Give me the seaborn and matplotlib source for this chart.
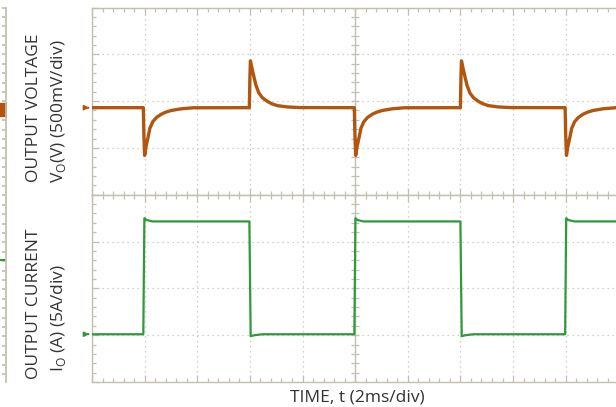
import numpy as np
import pandas as pd
import matplotlib
matplotlib.use("Agg")
import matplotlib.pyplot as plt
import seaborn as sns

# ---- values ----
# time axis: 2 ms/div, 10 divisions on screen
step_up_ms = [1.95, 9.97, 17.98]
step_down_ms = [5.98, 14.0]

# output voltage, mV from screen centre (500 mV/div)
v_base_mv = -70
undershoot_dt_ms = [0.0, 0.02, 0.05, 0.10, 0.17, 0.25, 0.36, 0.50, 0.68, 0.85, 1.06, 1.44, 1.90]
undershoot_mv = [-70, -350, -580, -490, -400, -290, -220, -175, -140, -118, -100, -82, -71]
overshoot_dt_ms = [0.0, 0.02, 0.04, 0.10, 0.17, 0.25, 0.36, 0.50, 0.68, 0.85, 1.06, 1.44, 1.90]
overshoot_mv = [-70, 250, 430, 350, 264, 170, 87, 35, -2, -28, -48, -62, -69]

# output current, A from screen centre (5 A/div)
i_low_a = -4.9
rise_dt_ms = [0.0, 0.04, 0.12, 0.35]
rise_a = [-4.9, 7.5, 7.3, 7.15]
fall_dt_ms = [0.0, 0.05, 0.20, 0.50]
fall_a = [7.15, -5.1, -5.0, -4.9]

# bits of the neighbouring figure cut off at the left edge (pixel rows)
edge_orange_y = [103, 116]
edge_green_y = [260]

V_COLOR = "#b0560f"
I_COLOR = "#2f9a3c"
GRID_C = "#c4c0b0"
TEXT_C = "#333333"


def build_trace(start, events, t_end=20.0):
    t, y = [0.0], [start]
    for t0, dts, vals in sorted(events, key=lambda e: e[0]):
        t += [t0 + d for d in dts]
        y += list(vals)
    t.append(t_end)
    y.append(y[-1])
    return pd.DataFrame({"t": t, "y": y})


def scope_axes(ax, half_range, div):
    ax.set_xlim(0, 20)
    ax.set_ylim(-half_range, half_range)
    ax.set_xticks(np.arange(0, 20.01, 2))
    ax.set_xticks(np.arange(0, 20.01, 0.4), minor=True)
    ax.set_yticks(np.arange(-half_range, half_range + 1e-9, div))
    ax.set_yticks(np.arange(-half_range, half_range + 1e-9, div / 5), minor=True)
    ax.grid(which="major", linestyle=(0, (1, 3)), color=GRID_C, linewidth=0.9)
    ax.tick_params(which="both", direction="in", top=True, bottom=True,
                   left=True, right=False, labelbottom=False, labelleft=False,
                   color=GRID_C, width=0.9)
    ax.tick_params(which="major", length=5)
    ax.tick_params(which="minor", length=3)
    for s in ax.spines.values():
        s.set_color(GRID_C)
        s.set_linewidth(1.0)
    # centre vertical axis with its cross ticks
    ax.axvline(10, color=GRID_C, lw=1.0, zorder=1)
    yt = np.arange(-half_range, half_range + 1e-9, div / 5)
    ax.plot(np.full(len(yt), 10.0), yt, ls="none", marker="_", ms=6,
            mew=0.9, color=GRID_C, zorder=1)


def main() -> int:
    sns.set_theme(style="white")
    plt.rcParams["font.family"] = ["Open Sans", "DejaVu Sans"]

    fig = plt.figure(figsize=(6.16, 4.07), dpi=100)
    W, H = 616.0, 407.0
    x0, x1 = 92.0, 618.3
    y_top, y_mid, y_bot = 7.5, 194.75, 382.0
    ax_v = fig.add_axes([x0 / W, 1 - y_mid / H, (x1 - x0) / W, (y_mid - y_top) / H])
    ax_i = fig.add_axes([x0 / W, 1 - y_bot / H, (x1 - x0) / W, (y_bot - y_mid) / H])

    scope_axes(ax_v, 1000, 500)
    scope_axes(ax_i, 10, 5)

    v_events = [(t, undershoot_dt_ms, undershoot_mv) for t in step_up_ms]
    v_events += [(t, overshoot_dt_ms, overshoot_mv) for t in step_down_ms]
    df_v = build_trace(v_base_mv, v_events)

    i_events = [(t, rise_dt_ms, rise_a) for t in step_up_ms]
    i_events += [(t, fall_dt_ms, fall_a) for t in step_down_ms]
    df_i = build_trace(i_low_a, i_events)

    sns.lineplot(data=df_v, x="t", y="y", ax=ax_v, color=V_COLOR, lw=2.4,
                 estimator=None, sort=False, zorder=3)
    sns.lineplot(data=df_i, x="t", y="y", ax=ax_i, color=I_COLOR, lw=1.6,
                 estimator=None, sort=False, zorder=3)
    for ax in (ax_v, ax_i):
        ax.set_xlabel("")
        ax.set_ylabel("")

    # ground-level markers on the left edge
    ax_v.annotate("", xy=(0, v_base_mv), xytext=(-0.25, v_base_mv),
                  arrowprops=dict(arrowstyle="-|>", color=V_COLOR, lw=1.2,
                                  mutation_scale=7), annotation_clip=False)
    ax_i.annotate("", xy=(0, i_low_a), xytext=(-0.25, i_low_a),
                  arrowprops=dict(arrowstyle="-|>", color=I_COLOR, lw=1.2,
                                  mutation_scale=7), annotation_clip=False)

    # sliver of the neighbouring figure at the far left
    ax_e = fig.add_axes([0, 1 - y_bot / H, 6.0 / W, (y_bot - y_top) / H])
    ax_e.set_xlim(0, 6)
    ax_e.set_ylim(y_bot, y_top)
    for k, s in ax_e.spines.items():
        s.set_visible(k == "right")
        s.set_color(GRID_C)
    ax_e.set_xticks([])
    ax_e.set_yticks(np.arange(y_top, y_bot, 9.4))
    ax_e.tick_params(axis="y", direction="in", right=True, left=False,
                     labelleft=False, length=3, color=GRID_C)
    ax_e.fill_between([0, 5.5], edge_orange_y[0], edge_orange_y[1], color=V_COLOR)
    ax_e.plot([0, 5], [edge_green_y[0]] * 2, color=I_COLOR, lw=1.5)

    fs = 12.5
    fig.text(34.5 / W, 1 - 108 / H, "OUTPUT VOLTAGE", rotation=90,
             ha="center", va="center", fontsize=fs, color=TEXT_C)
    fig.text(58 / W, 1 - 111.5 / H, r"V$_\mathregular{O}$(V) (500mV/div)",
             rotation=90, ha="center", va="center", fontsize=fs, color=TEXT_C)
    fig.text(34.5 / W, 1 - 304 / H, "OUTPUT CURRENT", rotation=90,
             ha="center", va="center", fontsize=fs, color=TEXT_C)
    fig.text(58 / W, 1 - 318.5 / H, r"I$_\mathregular{O}$ (A) (5A/div)",
             rotation=90, ha="center", va="center", fontsize=fs, color=TEXT_C)
    fig.text(357.5 / W, 1 - 397 / H, "TIME, t (2ms/div)", ha="center",
             va="center", fontsize=fs, color=TEXT_C)

    fig.savefig("out.png", dpi=100)
    plt.close(fig)
    return 0


if __name__ == "__main__":
    raise SystemExit(main())
